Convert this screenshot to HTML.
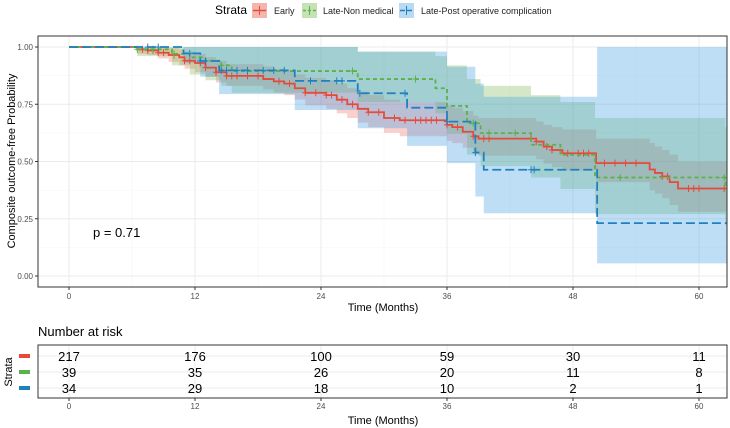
<!DOCTYPE html>
<html><head><meta charset="utf-8"><style>
html,body{margin:0;padding:0;background:#fff;}
svg{display:block;font-family:"Liberation Sans",Arial,sans-serif;}
</style></head><body>
<svg id="chart" width="730" height="428" viewBox="0 0 730 428">
  <g id="legend">
    <text x="215" y="14" font-size="12" fill="#000">Strata</text>
    <g>
      <rect x="252" y="3" width="15" height="15" fill="#f4b5ad"/>
      <line x1="253" y1="10.5" x2="266" y2="10.5" stroke="#e64a3a" stroke-width="1.5"/>
      <line x1="259.5" y1="6" x2="259.5" y2="15" stroke="#e64a3a" stroke-width="1"/>
      <text x="274" y="14" font-size="9" fill="#222">Early</text>
    </g>
    <g>
      <rect x="302" y="3" width="15" height="15" fill="#c4e2b5"/>
      <line x1="303" y1="10.5" x2="316" y2="10.5" stroke="#5bb14a" stroke-width="1.5" stroke-dasharray="3,2"/>
      <line x1="309.5" y1="6" x2="309.5" y2="15" stroke="#5bb14a" stroke-width="1"/>
      <text x="323" y="14" font-size="9" fill="#222">Late-Non medical</text>
    </g>
    <g>
      <rect x="399" y="3" width="15" height="15" fill="#b8dbf3"/>
      <line x1="400" y1="10.5" x2="413" y2="10.5" stroke="#1f80c0" stroke-width="1.5" stroke-dasharray="5,2"/>
      <line x1="406.5" y1="6" x2="406.5" y2="15" stroke="#1f80c0" stroke-width="1"/>
      <text x="421" y="14" font-size="9" fill="#222">Late-Post operative complication</text>
    </g>
  </g>
  <g id="plot"></g>
  <g id="risk"></g>
</svg>
<script>
const survTimesEarly=[0,6.5,7.5,8.5,9.5,10.5,11,12,13,14,15,18.5,19.5,20.5,21.5,22.5,24.5,25.5,26.5,27.5,28.5,30,31.5,36,36.5,37.5,38.5,39,44.5,45.2,46,47,50.2,55.3,55.8,56.5,57.2,58];
const survEarly=[1,0.99,0.985,0.975,0.965,0.955,0.94,0.93,0.91,0.89,0.874,0.86,0.85,0.84,0.82,0.80,0.79,0.77,0.75,0.73,0.715,0.69,0.68,0.66,0.65,0.63,0.61,0.60,0.587,0.565,0.55,0.536,0.493,0.465,0.45,0.435,0.41,0.382];
const upperEarly=[1,1,1,1,0.995,0.99,0.98,0.97,0.955,0.94,0.925,0.915,0.905,0.895,0.88,0.865,0.855,0.84,0.82,0.805,0.79,0.77,0.76,0.745,0.735,0.72,0.70,0.69,0.675,0.66,0.65,0.64,0.60,0.58,0.565,0.55,0.53,0.50];
const lowerEarly=[1,0.97,0.965,0.95,0.935,0.92,0.905,0.89,0.87,0.845,0.83,0.815,0.80,0.79,0.77,0.745,0.73,0.71,0.69,0.67,0.65,0.625,0.61,0.59,0.58,0.56,0.535,0.525,0.51,0.49,0.475,0.46,0.41,0.375,0.36,0.34,0.31,0.28];
const censorEarly=[7,7.5,8,8.5,9,10,11,11.5,12.5,13,14,15,15.5,16,17,18,20,21,22.5,23.5,24.5,25,26,27,28.5,29.5,31,32,33,33.5,34,34.5,35,36,37,38.5,39.5,40,44,44.5,45.5,46,47.5,48.5,49,49.5,51,52,53,54,56.5,57,59,59.5,60,62.4];

const survTimesNonMed=[0,6.5,9.8,11.5,13,14.5,15.5,27.5,34.9,36,37.9,39.2,44,46.8,50.1,62.5];
const survNonMed=[1,0.99,0.97,0.955,0.94,0.92,0.895,0.86,0.82,0.743,0.667,0.624,0.573,0.529,0.43,0.383];
const upperNonMed=[1,1,1,1,1,1,1,0.98,0.96,0.92,0.86,0.83,0.79,0.76,0.69,0.65];
const lowerNonMed=[1,0.96,0.92,0.88,0.855,0.83,0.80,0.76,0.71,0.62,0.53,0.48,0.43,0.38,0.27,0.22];
const censorNonMed=[6.5,8,10,14.5,27,33,38.5,40,42.5,52.5,62.4];

const survTimesPostOp=[0,10.9,12.5,14.3,21.5,27.5,32.2,36,38.7,39.5,50.3];
const survPostOp=[1,0.972,0.939,0.898,0.852,0.798,0.735,0.674,0.539,0.464,0.231];
const upperPostOp=[1,1,1,1,1,0.98,0.98,0.914,0.84,0.783,1.0];
const lowerPostOp=[1,0.93,0.87,0.794,0.725,0.645,0.568,0.493,0.347,0.274,0.055];
const censorPostOp=[7.5,8.5,11.5,12.5,13,14.5,15,16,17,18.5,19.5,20.5,23,25.5,26,27.7,32,36,38.7,44,44.3];

const xTicks=[0,12,24,36,48,60];
const yTicks=[0,0.25,0.5,0.75,1.0];
const yTickLabels=["0.00","0.25","0.50","0.75","1.00"];
const riskTimes=[0,12,24,36,48,60];
const riskEarly=[217,176,100,59,30,11];
const riskNonMed=[39,35,26,20,11,8];
const riskPostOp=[34,29,18,10,2,1];

const NS="http://www.w3.org/2000/svg";
const PL=38,PR=727,PT=36,PB=287,TMAX=62.65;
const sx=t=>69+t*10.5;
const sy=v=>276-v*229;
function el(tag,attrs,parent){const e=document.createElementNS(NS,tag);for(const k in attrs)e.setAttribute(k,attrs[k]);parent.appendChild(e);return e;}
const plot=document.getElementById('plot');
const risk=document.getElementById('risk');

const bg=el('rect',{x:PL,y:PT,width:PR-PL,height:PB-PT,fill:'#fff'},plot);


[6,18,30,42,54].forEach(t=>{const l=el('line',{x1:sx(t),x2:sx(t),y1:PT,y2:PB,stroke:'#f5f5f5','stroke-width':0.5},plot);

});
[0.125,0.375,0.625,0.875].forEach(v=>{const l=el('line',{x1:PL,x2:PR,y1:sy(v),y2:sy(v),stroke:'#f5f5f5','stroke-width':0.5},plot);

});
xTicks.forEach(t=>{const l=el('line',{x1:sx(t),x2:sx(t),y1:PT,y2:PB,stroke:'#ebebeb','stroke-width':1},plot);


const tk=el('line',{x1:sx(t),x2:sx(t),y1:PB,y2:PB+3,stroke:'#333','stroke-width':1},plot);


const tx=el('text',{x:sx(t),y:PB+12,'font-size':8,fill:'#4d4d4d','text-anchor':'middle'},plot);tx.textContent=t;

});
yTicks.forEach((v,i)=>{const l=el('line',{x1:PL,x2:PR,y1:sy(v),y2:sy(v),stroke:'#ebebeb','stroke-width':1},plot);


const tk=el('line',{x1:PL-3,x2:PL,y1:sy(v),y2:sy(v),stroke:'#333','stroke-width':1},plot);


const tx=el('text',{x:PL-5,y:sy(v)+3,'font-size':8,fill:'#4d4d4d','text-anchor':'end'},plot);tx.textContent=yTickLabels[i];

});

function stepPath(T,V){let d=`M${sx(T[0])},${sy(V[0])}`;for(let i=1;i<T.length;i++){d+=` H${sx(T[i])} V${sy(V[i])}`;}d+=` H${sx(TMAX)}`;return d;}
function bandPath(T,U,L){let d=`M${sx(T[0])},${sy(U[0])}`;for(let i=1;i<T.length;i++){d+=` H${sx(T[i])} V${sy(U[i])}`;}d+=` H${sx(TMAX)} V${sy(L[L.length-1])}`;for(let i=T.length-1;i>=1;i--){d+=` H${sx(T[i])} V${sy(L[i-1])}`;}d+=` H${sx(T[0])} Z`;return d;}
function survAt(T,V,t){let v=V[0];for(let i=0;i<T.length;i++){if(T[i]<=t)v=V[i];}return v;}

const series=[
 {name:'early',T:survTimesEarly,V:survEarly,U:upperEarly,L:lowerEarly,C:censorEarly,col:'#e64a3a',fill:'rgba(240,110,100,0.32)',dash:''},
 {name:'late-non-medical',T:survTimesNonMed,V:survNonMed,U:upperNonMed,L:lowerNonMed,C:censorNonMed,col:'#5bb14a',fill:'rgba(120,185,80,0.32)',dash:'4,3'},
 {name:'late-post-operative',T:survTimesPostOp,V:survPostOp,U:upperPostOp,L:lowerPostOp,C:censorPostOp,col:'#1f80c0',fill:'rgba(70,160,230,0.35)',dash:'9,4'}
];
series.forEach(s=>{const b=el('path',{d:bandPath(s.T,s.U,s.L),fill:s.fill,stroke:'none'},plot);

});
series.forEach(s=>{const p=el('path',{d:stepPath(s.T,s.V),fill:'none',stroke:s.col,'stroke-width':1.8,'stroke-dasharray':s.dash},plot);


s.C.forEach(t=>{const v=survAt(s.T,s.V,t);const m=el('path',{d:`M${sx(t)-3},${sy(v)} H${sx(t)+3} M${sx(t)},${sy(v)-3.5} V${sy(v)+3.5}`,stroke:s.col,'stroke-width':1},plot);

});});

const border=el('rect',{x:PL,y:PT,width:PR-PL,height:PB-PT,fill:'none',stroke:'#333','stroke-width':1},plot);


const pv=el('text',{x:93,y:237,'font-size':13,fill:'#000'},plot);pv.textContent='p = 0.71';


const xt=el('text',{x:383,y:311,'font-size':11,fill:'#000','text-anchor':'middle'},plot);xt.textContent='Time (Months)';


const yt=el('text',{x:0,y:0,'font-size':11,fill:'#000','text-anchor':'middle',transform:'translate(15,161) rotate(-90)'},plot);yt.textContent='Composite outcome-free Probability';



const RT=345,RB=398;
const rtitle=el('text',{x:38,y:336,'font-size':13,fill:'#000'},risk);rtitle.textContent='Number at risk';


const rbg=el('rect',{x:PL,y:RT,width:PR-PL,height:RB-RT,fill:'#fff'},risk);


xTicks.forEach(t=>{const l=el('line',{x1:sx(t),x2:sx(t),y1:RT,y2:RB,stroke:'#ebebeb','stroke-width':1},risk);


const tk=el('line',{x1:sx(t),x2:sx(t),y1:RB,y2:RB+3,stroke:'#333','stroke-width':1},risk);


const tx=el('text',{x:sx(t),y:RB+11,'font-size':8,fill:'#4d4d4d','text-anchor':'middle'},risk);tx.textContent=t;

});
const rows=[{vals:riskEarly,col:'#e64a3a',y:356,name:'early'},{vals:riskNonMed,col:'#5bb14a',y:372,name:'late-non-medical'},{vals:riskPostOp,col:'#1f80c0',y:388,name:'late-post-operative'}];
rows.forEach(r=>{const gl=el('line',{x1:PL,x2:PR,y1:r.y,y2:r.y,stroke:'#ebebeb','stroke-width':1},risk);


const key=el('rect',{x:19,y:r.y-2,width:11,height:4,fill:r.col},risk);


r.vals.forEach((v,i)=>{const tx=el('text',{x:sx(riskTimes[i]),y:r.y+5,'font-size':13,fill:'#000','text-anchor':'middle'},risk);tx.textContent=v;

});});
const rborder=el('rect',{x:PL,y:RT,width:PR-PL,height:RB-RT,fill:'none',stroke:'#333','stroke-width':1},risk);


const rst=el('text',{x:0,y:0,'font-size':11,fill:'#000','text-anchor':'middle',transform:'translate(12,372) rotate(-90)'},risk);rst.textContent='Strata';


const rxt=el('text',{x:383,y:424,'font-size':11,fill:'#000','text-anchor':'middle'},risk);rxt.textContent='Time (Months)';


</script>
</body></html>
